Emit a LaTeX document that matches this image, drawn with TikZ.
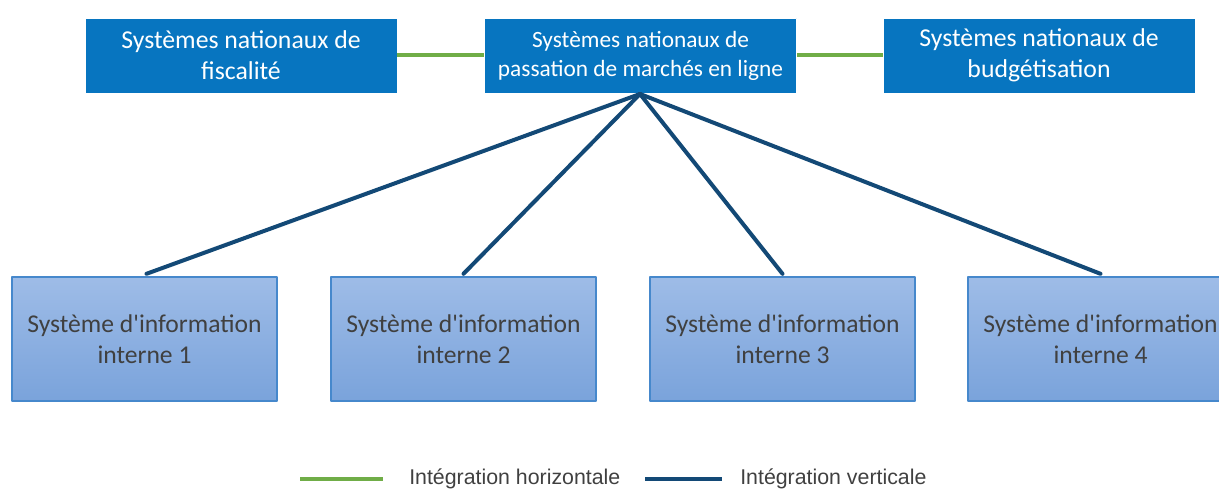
\documentclass[tikz,border=0pt]{standalone}
\usepackage{fontspec}
\setmainfont{Carlito}
\newfontfamily\legendfont{Liberation Sans}
\usepackage{tikz}

\definecolor{natblue}{RGB}{7,117,192}
\definecolor{sitop}{RGB}{158,188,231}
\definecolor{sibot}{RGB}{122,163,219}
\definecolor{siedge}{RGB}{70,136,204}
\definecolor{vertline}{RGB}{19,73,118}
\definecolor{horline}{RGB}{112,173,71}
\definecolor{sitext}{RGB}{64,64,64}

\tikzset{
  natbox/.style={fill=natblue, draw=white, line width=0.6pt, text=white, align=center,
    minimum width=234pt, minimum height=56.25pt, inner sep=0pt},
  sibox/.style={top color=sitop, bottom color=sibot, draw=siedge, line width=0.8pt,
    text=sitext, align=center, minimum width=198.75pt, minimum height=93pt, inner sep=0pt,
    font=\fontsize{19.2}{23.25}\selectfont},
  hline/.style={horline, line width=3pt},
  vline/.style={vertline, line width=3pt, line cap=round},
  legtext/.style={anchor=west, inner sep=0pt, text=sitext, font=\legendfont\fontsize{16}{18}\selectfont},
}

\begin{document}
\begin{tikzpicture}[x=0.75pt, y=-0.75pt, line join=round]
\useasboundingbox (0,0) rectangle (1219,492);
\clip (0,0) rectangle (1219,492);
\def\topy{55.5}
\def\boty{339}
\node[natbox, font=\fontsize{19.3}{23.25}\selectfont] (fisc) at (241,\topy) {Systèmes nationaux de\\fiscalité};
\node[natbox, font=\fontsize{17.5}{21.75}\selectfont] (pass) at (640.5,\topy) {Systèmes nationaux de\\passation de marchés en ligne};
\node[natbox, font=\fontsize{19.3}{23.25}\selectfont] (budg) at (1039,\topy) {Systèmes nationaux de\\budgétisation};
\node[sibox] (si1) at (144.5,\boty) {Système d\textquotesingle information\\interne 1};
\node[sibox] (si2) at (463.5,\boty) {Système d\textquotesingle information\\interne 2};
\node[sibox] (si3) at (782.5,\boty) {Système d\textquotesingle information\\interne 3};
\node[sibox] (si4) at (1100.5,\boty) {Système d\textquotesingle information\\interne 4};
\coordinate (hub) at (640,94);
\draw[hline] (fisc.east) -- (pass.west);
\draw[hline] (pass.east) -- (budg.west);
\draw[vline] (hub) -- ([xshift=1.5pt,yshift=2pt]si1.north);
\draw[vline] (hub) -- ([yshift=2pt]si2.north);
\draw[vline] (hub) -- ([yshift=2pt]si3.north);
\draw[vline] (hub) -- ([yshift=2pt]si4.north);
% legend
\coordinate (lg1) at (300,479);
\coordinate (lg2) at (383,479);
\coordinate (lb1) at (645,479);
\coordinate (lb2) at (722,479);
\draw[hline] (lg1) -- (lg2);
\draw[vline, line cap=butt] (lb1) -- (lb2);
\node[legtext] (lgh) at (409,479) {Intégration horizontale};
\node[legtext] (lgv) at (740,479) {Intégration verticale};
\end{tikzpicture}
\end{document}
